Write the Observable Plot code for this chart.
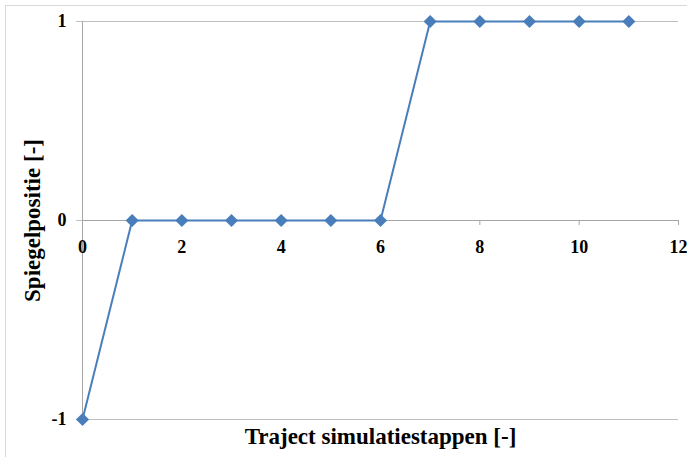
<!DOCTYPE html>
<html><head><meta charset="utf-8">
<script src="https://cdn.jsdelivr.net/npm/d3@7"></script>
<script src="https://cdn.jsdelivr.net/npm/@observablehq/plot@0.6"></script>
<style>
body{margin:0;background:#fff;overflow:hidden;}
#wrap{position:relative;width:687px;height:457px;overflow:hidden;}
#border{position:absolute;left:5px;top:5px;width:720px;height:520px;border:1px solid #d9d9d9;box-sizing:border-box;}
#chart{position:absolute;left:0;top:0;}
</style></head>
<body><div id="wrap"><div id="border"></div><div id="chart"></div></div>
<script>
const steps = [0,1,2,3,4,5,6,7,8,9,10,11];
const positions = [-1,0,0,0,0,0,0,1,1,1,1,1];
const xTicks = [0,2,4,6,8,10,12];
const yTicks = [-1,0,1];
const xTitle = "Traject simulatiestappen [-]";
const yTitle = "Spiegelpositie [-]";
const data = steps.map((s,i)=>({x:s,y:positions[i]}));
const font = "'Liberation Serif','Times New Roman',serif";
const blue = "#4a7ebb";
const chart = Plot.plot({
  width:687, height:457,
  marginLeft:82, marginRight:9, marginTop:21, marginBottom:38,
  style:{fontFamily:font, fontWeight:"bold", fontSize:"18px", background:"transparent"},
  x:{domain:[0,12], axis:null},
  y:{domain:[-1,1], axis:null},
  marks:[
    Plot.ruleY(yTicks,{stroke:"#bfbfbf", strokeWidth:1, insetLeft:-6}),
    Plot.ruleX([0],{stroke:"#a6a6a6", strokeWidth:1}),
    Plot.ruleY([0],{stroke:"#a6a6a6", strokeWidth:1}),
    Plot.ruleX(xTicks,{y1:0, y2:0, insetBottom:-5, stroke:"#a6a6a6"}),
    Plot.text(yTicks,{x:0, y:d=>d, text:d=>String(d), textAnchor:"end", lineAnchor:"middle", dx:-16, fill:"black", fontSize:18, fontWeight:"bold"}),
    Plot.text(xTicks,{x:d=>d, y:0, text:d=>String(d), lineAnchor:"middle", dy:27, fill:"black", fontSize:18, fontWeight:"bold"}),
    Plot.line(data,{x:"x", y:"y", stroke:blue, strokeWidth:2}),
    Plot.dot(data,{x:"x", y:"y", symbol:"diamond2", r:5.9, fill:blue, stroke:"none"}),
    Plot.text([xTitle],{frameAnchor:"bottom", textAnchor:"middle", lineAnchor:"middle", dy:17, fontSize:23, fontWeight:"bold", fill:"black"}),
    Plot.text([yTitle],{frameAnchor:"left", textAnchor:"middle", lineAnchor:"middle", rotate:-90, dx:-50, fontSize:23, fontWeight:"bold", fill:"black"})
  ]
});
document.getElementById("chart").appendChild(chart);
</script></body></html>
